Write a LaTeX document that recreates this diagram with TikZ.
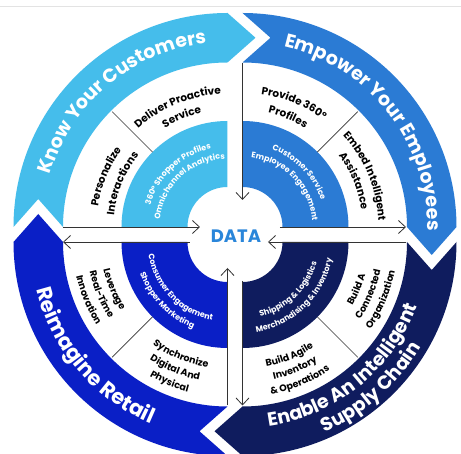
\documentclass[tikz,border=0pt]{standalone}
\usepackage{fontspec}
\setmainfont{Poppins}
\usetikzlibrary{calc,arrows.meta,decorations.text}

\definecolor{custblue}{HTML}{45BDEB}
\definecolor{empblue}{HTML}{2B7BD4}
\definecolor{retblue}{HTML}{0A1FC6}
\definecolor{supnavy}{HTML}{0F1C5E}
\definecolor{datablue}{HTML}{2A86DA}
\definecolor{inkgray}{HTML}{333333}

% ring radii
\newcommand\bandOut{214}
\newcommand\bandIn{164.5}
\newcommand\bandMid{189.25}
\newcommand\tipLen{28}
\newcommand\coreOut{106}
\newcommand\coreIn{40}

% text formats
\newcommand\fOuter{\color{white}\bfseries\fontsize{19}{22}\selectfont}
\newcommand\fOuterL{\color{white}\bfseries\fontsize{21}{24}\selectfont}
\newcommand\fMid{\color{black}\bfseries\fontsize{10.5}{12}\selectfont}
\newcommand\fMidS{\color{black}\bfseries\fontsize{9.5}{11}\selectfont}
\newcommand\fInner{\color{white}\bfseries\fontsize{8}{10}\selectfont}

% outer arrow band of a quadrant: #1 centre, #2 tail angle, #3 colour (flows clockwise)
\newcommand\flowband[3]{%
  \fill[#3] ($(#1)+(#2:\bandOut)$) arc[start angle=#2, end angle=#2-90, radius=\bandOut]
    -- ($(#1)+(#2-90:\bandMid)+(#2-180:\tipLen)$)
    -- ($(#1)+(#2-90:\bandIn)$) arc[start angle=#2-90, end angle=#2, radius=\bandIn]
    -- ($(#1)+(#2:\bandMid)+(#2-90:\tipLen)$) -- cycle;}

% inner coloured quarter ring: #1 centre, #2 start angle, #3 colour
\newcommand\corering[3]{%
  \fill[#3] ($(#1)+(#2:\coreOut)$) arc[start angle=#2, end angle=#2-90, radius=\coreOut]
    -- ($(#1)+(#2-90:\coreIn)$) arc[start angle=#2-90, end angle=#2, radius=\coreIn] -- cycle;}

% curved text, clockwise (letters face outward): centre, mid angle, baseline radius, format, text
\newcommand\cwtext[5]{%
  \pgfmathsetmacro\tsA{#2+85}\pgfmathsetmacro\tsB{#2-85}%
  \path[decorate,decoration={text along path,text align=center,text={|#4|#5}}]
    ($(#1)+(\tsA:#3)$) arc[start angle=\tsA,end angle=\tsB,radius=#3];}
% curved text, counter-clockwise (letters face the centre)
\newcommand\ccwtext[5]{%
  \pgfmathsetmacro\tsA{#2-85}\pgfmathsetmacro\tsB{#2+85}%
  \path[decorate,decoration={text along path,text align=center,text={|#4|#5}}]
    ($(#1)+(\tsA:#3)$) arc[start angle=\tsA,end angle=\tsB,radius=#3];}

\begin{document}
\begin{tikzpicture}[x=1pt,y=1pt,
  flowline/.style={draw=inkgray,line width=0.8pt},
  inarrow/.style={flowline,-{Straight Barb[length=7pt,width=13pt]}},
  divider/.style={draw=inkgray,line width=0.7pt}]

\fill[white] (-235,-219.5) rectangle (226,234.5);
\useasboundingbox (-235,-219.5) rectangle (226,234.5);
\draw[gray!22,line width=1pt] (-235,228) -- (226,228);

% centres of the four quadrants
\coordinate (qKYC) at (-7.5,7.5);
\coordinate (qEMP) at (7.5,7.5);
\coordinate (qENA) at (7.5,-7.5);
\coordinate (qRET) at (-7.5,-7.5);

% outer arrow bands
\flowband{qKYC}{180}{custblue}
\flowband{qEMP}{90}{empblue}
\flowband{qENA}{0}{supnavy}
\flowband{qRET}{270}{retblue}

% inner rings
\corering{qKYC}{180}{custblue}
\corering{qEMP}{90}{empblue}
\corering{qENA}{0}{supnavy}
\corering{qRET}{270}{retblue}

% dividers in the white ring
\draw[divider] ($(qKYC)+(135:\coreOut)$) -- ($(qKYC)+(135:163)$);
\draw[divider] ($(qEMP)+(45:\coreOut)$) -- ($(qEMP)+(45:163)$);
\draw[divider] ($(qENA)+(-45:\coreOut)$) -- ($(qENA)+(-45:163)$);
\draw[divider] ($(qRET)+(225:\coreOut)$) -- ($(qRET)+(225:163)$);

% flow lines to and from the centre
\coordinate (kycA) at (-172,7.5);  \coordinate (kycB) at (-35,7.5);
\coordinate (empA) at (7.5,171);   \coordinate (empB) at (7.5,34.5);
\coordinate (empC) at (45,7.5);    \coordinate (empD) at (171,7.5);
\coordinate (enaA) at (171,-7.5);  \coordinate (enaB) at (33,-7.5);
\coordinate (enaC) at (7.5,-46.5); \coordinate (enaD) at (7.5,-171);
\coordinate (retA) at (-7.5,-171); \coordinate (retB) at (-7.5,-33.5);
\coordinate (retC) at (-45,-7.5);  \coordinate (retD) at (-172,-7.5);
\draw[inarrow] (kycA) -- (kycB);
\draw[inarrow] (empA) -- (empB);
\draw[inarrow] (empC) -- (empD);
\draw[inarrow] (enaA) -- (enaB);
\draw[inarrow] (enaC) -- (enaD);
\draw[inarrow] (retA) -- (retB);
\draw[inarrow] (retC) -- (retD);

\node[font=\bfseries\fontsize{18}{20}\selectfont,text=datablue] (data) at (1,-1.5) {DATA};

% outer band titles
\cwtext{qKYC}{130}{185}{\fOuter}{Know Your Customers}
\cwtext{qEMP}{38}{185}{\fOuter}{Empower Your Employees}
\ccwtext{qRET}{220.5}{197}{\fOuterL}{Reimagine Retail}
\ccwtext{qENA}{309}{186}{\fOuter}{Enable An Intelligent}
\ccwtext{qENA}{311.5}{207}{\fOuter}{Supply Chain}

% white ring labels
\cwtext{qKYC}{112.5}{133}{\fMid}{Deliver Proactive}
\cwtext{qKYC}{112.5}{117}{\fMid}{Service}
\cwtext{qKYC}{157.5}{131}{\fMid}{Personalize}
\cwtext{qKYC}{157.5}{114}{\fMid}{Interactions}
\cwtext{qEMP}{67.5}{134}{\fMid}{Provide 360°}
\cwtext{qEMP}{67.5}{117}{\fMid}{Profiles}
\cwtext{qEMP}{22.5}{136}{\fMid}{Embed Intelligent}
\cwtext{qEMP}{22.5}{120}{\fMid}{Assistance}
\ccwtext{qRET}{202.5}{127}{\fMidS}{Leverage}
\ccwtext{qRET}{202.5}{141}{\fMidS}{Real-Time}
\ccwtext{qRET}{202.5}{155}{\fMidS}{Innovation}
\ccwtext{qRET}{247.5}{127}{\fMidS}{Synchronize}
\ccwtext{qRET}{247.5}{141}{\fMidS}{Digital And}
\ccwtext{qRET}{247.5}{155}{\fMidS}{Physical}
\ccwtext{qENA}{292.5}{127}{\fMidS}{Build Agile}
\ccwtext{qENA}{292.5}{141}{\fMidS}{Inventory}
\ccwtext{qENA}{292.5}{155}{\fMidS}{{\&} Operations}
\ccwtext{qENA}{337.5}{127}{\fMidS}{Build A}
\ccwtext{qENA}{337.5}{141}{\fMidS}{Connected}
\ccwtext{qENA}{337.5}{155}{\fMidS}{Organization}

% inner ring labels
\cwtext{qKYC}{133}{80}{\fInner}{360° Shopper Profiles}
\cwtext{qKYC}{133}{68}{\fInner}{Omnichannel Analytics}
\cwtext{qEMP}{44}{83}{\fInner}{Customer Service}
\cwtext{qEMP}{44}{70}{\fInner}{Employee Engagement}
\ccwtext{qRET}{224}{80}{\fInner}{Consumer Engagement}
\ccwtext{qRET}{224}{93}{\fInner}{Shopper Marketing}
\ccwtext{qENA}{314}{77}{\fInner}{Shipping {\&} Logistics}
\ccwtext{qENA}{314}{91}{\fInner}{Merchandising {\&} Inventory}
\end{tikzpicture}
\end{document}
